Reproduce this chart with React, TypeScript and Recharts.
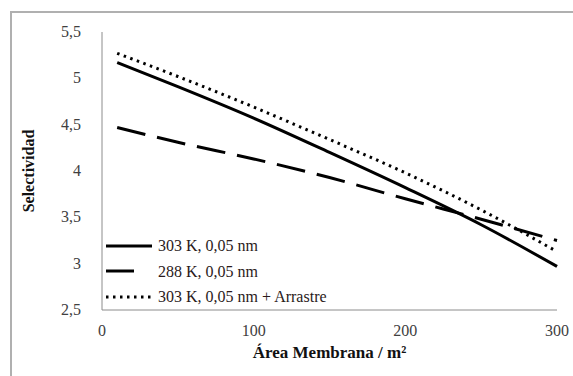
import { LineChart, Line, XAxis, YAxis } from "recharts";

// Área de membrana (m²)
const area = [10, 50, 100, 150, 200, 250, 300];
// Selectividad por serie
const sel303 = [5.17, 4.91, 4.57, 4.2, 3.82, 3.42, 2.97];
const sel288 = [4.47, 4.31, 4.13, 3.93, 3.7, 3.48, 3.25];
const sel303Arr = [5.27, 5.02, 4.69, 4.34, 3.98, 3.58, 3.13];

const xTicks = [0, 100, 200, 300];
const yTicks = [2.5, 3, 3.5, 4, 4.5, 5, 5.5];

const series = [
  { key: "s303", name: "303 K, 0,05 nm", dash: undefined as string | undefined, legendDash: undefined as string | undefined },
  { key: "s288", name: "288 K, 0,05 nm", dash: "29 12", legendDash: "28 18" },
  { key: "s303a", name: "303 K, 0,05 nm + Arrastre", dash: "2.5 4.5", legendDash: "2.5 4.5" },
];

const data = area.map((a, i) => ({
  area: a,
  s303: sel303[i],
  s288: sel288[i],
  s303a: sel303Arr[i],
}));

const FONT = "'Liberation Serif', 'Times New Roman', serif";
const fmt = (v: number) => String(v).replace(".", ",");

function XTick({ x, y, payload }: any) {
  return (
    <text x={x} y={y + 18} textAnchor="middle" fontFamily={FONT} fontSize={16} fill="#404040">
      {payload.value}
    </text>
  );
}

function YTick({ x, y, payload }: any) {
  return (
    <text x={x - 13} y={y + 5} textAnchor="end" fontFamily={FONT} fontSize={16} fill="#404040">
      {fmt(payload.value)}
    </text>
  );
}

// leyenda dibujada aparte para no mover el área del gráfico
function LegendBox() {
  return (
    <div style={{ fontFamily: FONT, fontSize: 16, color: "#2a1a1a", lineHeight: "25.5px" }}>
      {series.map((s) => (
        <div key={s.key} style={{ display: "flex", alignItems: "center", height: 25.5 }}>
          <svg width={50} height={10} style={{ marginRight: 2 }}>
            <line x1={0} y1={5} x2={46} y2={5} stroke="#000" strokeWidth={3} strokeDasharray={s.legendDash} />
          </svg>
          <span style={{ whiteSpace: "nowrap" }}>{s.name}</span>
        </div>
      ))}
    </div>
  );
}

export default function App() {
  return (
    <div style={{ position: "absolute", left: 0, top: 0, width: 573, height: 376, background: "#fff", overflow: "hidden", fontFamily: FONT }}>
      <div
        style={{
          position: "absolute",
          left: 10,
          top: 11,
          width: 600,
          height: 400,
          borderTop: "2px solid #b0b0b0",
          borderLeft: "2px solid #b0b0b0",
        }}
      />
      <div style={{ position: "absolute", left: 0, top: 0 }}>
        <LineChart
          width={573}
          height={376}
          data={data}
          margin={{ top: 32, right: 16, bottom: 0, left: 0 }}
        >
          <XAxis
            dataKey="area"
            type="number"
            domain={[0, 300]}
            ticks={xTicks}
            height={66}
            tickLine={false}
            axisLine={{ stroke: "#8c8c8c", strokeWidth: 1 }}
            tick={<XTick />}
            label={{
              value: "Área Membrana / m²",
              position: "insideBottom",
              offset: 18,
              style: { fontFamily: FONT, fontSize: 17, fontWeight: "bold", fill: "#111" },
            }}
          />
          <YAxis
            type="number"
            domain={[2.5, 5.5]}
            ticks={yTicks}
            width={102}
            tickLine={false}
            axisLine={{ stroke: "#8c8c8c", strokeWidth: 1 }}
            tick={<YTick />}
            label={{
              value: "Selectividad",
              angle: -90,
              position: "insideLeft",
              offset: 28,
              style: { fontFamily: FONT, fontSize: 16, fontWeight: "bold", fill: "#111", textAnchor: "middle" },
            }}
          />
          {series.map((s) => (
            <Line
              key={s.key}
              dataKey={s.key}
              name={s.name}
              type="monotone"
              stroke="#000"
              strokeWidth={3}
              strokeDasharray={s.dash}
              dot={false}
              isAnimationActive={false}
            />
          ))}
        </LineChart>
      </div>
      <div style={{ position: "absolute", left: 106, top: 233 }}>
        <LegendBox />
      </div>
    </div>
  );
}
